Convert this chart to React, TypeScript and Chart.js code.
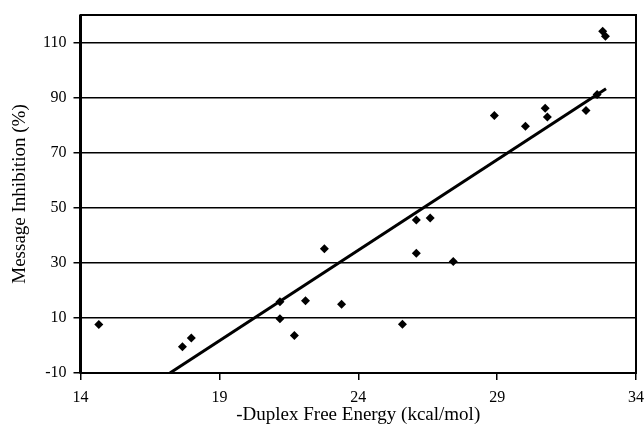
import React, { useEffect, useRef } from "react";
import { Chart, registerables } from "chart.js";
Chart.register(...registerables);

const energyX = [14.66, 17.67, 17.99, 21.18, 21.18, 21.7, 22.1, 22.78, 23.4, 25.59, 26.09, 26.09, 26.59, 27.42, 28.9, 30.02, 30.73, 30.81, 32.2, 32.6, 32.8, 32.9];
const inhibitionY = [7.6, -0.5, 2.7, 15.9, 9.7, 3.6, 16.2, 35.1, 15.0, 7.7, 45.6, 33.5, 46.3, 30.5, 83.5, 79.6, 86.1, 83.0, 85.3, 91.1, 114.1, 112.3];
const trendX = [17.22, 32.92];
const trendY = [-10, 93.2];
const xTicks = [14, 19, 24, 29, 34];
const yTicks = [-10, 10, 30, 50, 70, 90, 110];

const FONT = "'Liberation Serif', 'Times New Roman', serif";

export default function App() {
  const ref = useRef<HTMLCanvasElement>(null);
  useEffect(() => {
    if (!ref.current) return;
    const borderPlugin = {
      id: "border",
      afterDatasetsDraw(chart: any) {
        const { ctx, chartArea: a } = chart;
        ctx.save();
        ctx.strokeStyle = "#000";
        ctx.lineWidth = 2;
        ctx.strokeRect(a.left, a.top, a.right - a.left, a.bottom - a.top);
        ctx.lineWidth = 3;
        ctx.beginPath();
        ctx.moveTo(a.left, a.top);
        ctx.lineTo(a.left, a.bottom);
        ctx.stroke();
        ctx.restore();
      },
    };
    const chart = new Chart(ref.current, {
      type: "scatter",
      data: {
        datasets: [
          {
            data: energyX.map((x, i) => ({ x, y: inhibitionY[i] })),
            pointStyle: "rectRot",
            pointRadius: 4.5,
            backgroundColor: "#000",
            borderColor: "#000",
            borderWidth: 0,
            showLine: false,
          },
          {
            data: trendX.map((x, i) => ({ x, y: trendY[i] })),
            showLine: true,
            borderColor: "#000",
            borderWidth: 3,
            pointRadius: 0,
            fill: false,
          },
        ],
      },
      options: {
        animation: false,
        responsive: false,
        maintainAspectRatio: false,
        layout: { padding: { top: 15, right: 8, left: 0, bottom: 0 } },
        plugins: { legend: { display: false }, tooltip: { enabled: false } },
        scales: {
          x: {
            type: "linear",
            min: 14,
            max: 34,
            afterBuildTicks: (s: any) => {
              s.ticks = xTicks.map((v) => ({ value: v }));
            },
            afterFit: (s: any) => {
              s.height = 65;
              s.paddingRight = 0;
              s.paddingLeft = 0;
            },
            ticks: { color: "#000", font: { family: FONT, size: 16 }, padding: 8, maxRotation: 0 },
            grid: { drawOnChartArea: false, drawTicks: true, tickLength: 7, color: "#000", lineWidth: 1.5 },
            border: { display: false },
            title: { display: true, text: "-Duplex Free Energy (kcal/mol)", color: "#000", font: { family: FONT, size: 19 }, padding: { top: 0, bottom: 12 } },
          },
          y: {
            type: "linear",
            min: -10,
            max: 120,
            afterBuildTicks: (s: any) => {
              s.ticks = yTicks.map((v) => ({ value: v }));
            },
            afterFit: (s: any) => {
              s.width = 80.5;
              s.paddingTop = 0;
              s.paddingBottom = 0;
            },
            ticks: { color: "#000", font: { family: FONT, size: 16 }, padding: 7 },
            grid: { drawOnChartArea: true, drawTicks: true, tickLength: 7, color: "#000", lineWidth: 1.5 },
            border: { display: false },
            title: { display: true, text: "Message Inhibition (%)", color: "#000", font: { family: FONT, size: 19 }, padding: { top: 9, bottom: 0 } },
          },
        },
      },
      plugins: [borderPlugin],
    });
    return () => chart.destroy();
  }, []);
  return (
    <div style={{ position: "fixed", left: 0, top: 0, width: 644, height: 438, background: "#fff" }}>
      <canvas ref={ref} width={644} height={438} style={{ width: 644, height: 438 }} />
    </div>
  );
}
